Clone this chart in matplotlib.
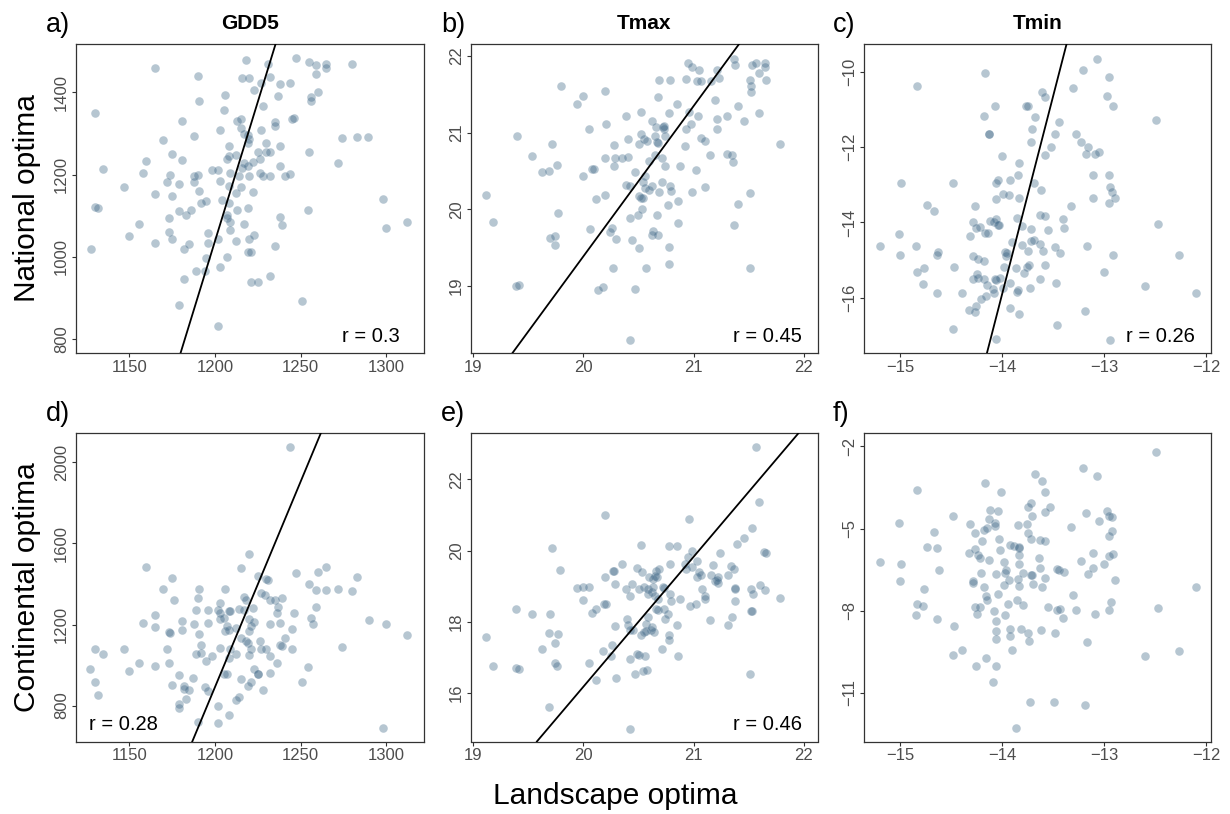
import matplotlib
matplotlib.use("Agg")
import matplotlib.pyplot as plt

plt.rcParams['font.family'] = ['Liberation Sans', 'DejaVu Sans']

# ---- data: landscape optima (x) vs national / continental optima (y) ----
# a) GDD5, national
nat_gdd5_x = [1130, 1165, 1190, 1191, 1218, 1231, 1216, 1220, 1232, 1227, 1238, 1244, 1247, 1255,
              1259, 1265, 1265, 1280, 1259, 1260, 1256, 1256, 1223, 1237, 1206, 1228, 1205, 1181,
              1213, 1215, 1235, 1235, 1245, 1246, 1203, 1215, 1217, 1219, 1227, 1188, 1170, 1220,
              1219, 1230, 1238, 1208, 1274, 1283, 1289, 1175, 1208, 1212, 1225, 1230, 1232, 1255,
              1160, 1181, 1207, 1217, 1222, 1226, 1219, 1238, 1272, 1135, 1158, 1174, 1188, 1190,
              1198, 1202, 1209, 1214, 1216, 1220, 1226, 1228, 1232, 1241, 1244, 1172, 1179, 1203,
              1188, 1147, 1208, 1215, 1298, 1165, 1175, 1191, 1222, 1204, 1192, 1195, 1212, 1208,
              1130, 1132, 1179, 1186, 1183, 1173, 1213, 1219, 1207, 1207, 1209, 1238, 1239, 1217,
              1156, 1196, 1173, 1175, 1150, 1209, 1223, 1165, 1185, 1196, 1202, 1212, 1220, 1235,
              1128, 1182, 1219, 1221, 1195, 1207, 1203, 1189, 1194, 1182, 1221, 1225, 1232, 1179,
              1251, 1202, 1300, 1312, 1254]
nat_gdd5_y = [1350, 1459, 1440, 1378, 1479, 1469, 1434, 1436, 1437, 1424, 1420, 1422, 1483, 1473,
              1466, 1470, 1460, 1469, 1445, 1400, 1389, 1380, 1407, 1391, 1393, 1368, 1357, 1331,
              1331, 1335, 1329, 1318, 1336, 1339, 1308, 1313, 1298, 1297, 1309, 1294, 1285, 1287,
              1277, 1278, 1269, 1269, 1289, 1291, 1291, 1251, 1246, 1247, 1256, 1255, 1254, 1254,
              1233, 1235, 1238, 1229, 1230, 1238, 1220, 1220, 1229, 1214, 1205, 1200, 1198, 1199,
              1211, 1211, 1205, 1197, 1216, 1196, 1205, 1198, 1196, 1196, 1201, 1183, 1178, 1184,
              1183, 1171, 1172, 1171, 1140, 1152, 1149, 1160, 1159, 1139, 1132, 1135, 1155, 1131,
              1121, 1118, 1111, 1114, 1101, 1094, 1113, 1119, 1102, 1094, 1085, 1098, 1077, 1081,
              1081, 1058, 1060, 1044, 1051, 1065, 1053, 1033, 1032, 1033, 1043, 1038, 1044, 1027,
              1020, 1019, 1012, 1013, 998, 1000, 975, 967, 967, 946, 940, 938, 954, 884,
              894, 833, 1071, 1085, 1113]

# b) Tmax, national
nat_tmax_x = [19.80, 19.94, 20.00, 20.20, 19.40, 19.72, 19.54, 19.76, 19.63, 19.69, 20.05, 20.00,
              20.08, 20.10, 20.21, 20.20, 20.28, 20.28, 20.29, 20.35, 20.41, 20.39, 20.52, 20.41,
              20.52, 20.51, 20.55, 20.58, 20.62, 20.65, 20.66, 20.72, 20.73, 20.73, 20.68, 20.69,
              20.67, 20.68, 20.74, 20.65, 20.71, 20.74, 20.60, 20.47, 20.56, 20.79, 20.78, 20.85,
              20.88, 20.92, 20.93, 20.96, 20.98, 21.04, 20.93, 20.95, 20.99, 21.05, 21.03, 21.07,
              21.07, 21.10, 21.02, 21.15, 21.19, 21.21, 21.23, 21.16, 21.21, 21.21, 21.30, 21.30,
              21.35, 21.36, 21.40, 21.46, 21.59, 21.37, 21.38, 21.51, 21.52, 21.52, 21.53, 21.57,
              21.59, 21.65, 21.65, 21.66, 21.78, 19.12, 20.12, 20.20, 20.39, 20.42, 20.52, 19.18,
              19.77, 19.70, 19.74, 19.74, 19.39, 19.42, 20.06, 20.24, 20.26, 20.30, 20.27, 20.13,
              20.18, 20.47, 20.42, 20.54, 20.42, 20.50, 20.53, 20.51, 20.54, 20.56, 20.60, 20.62,
              20.69, 20.71, 20.79, 20.80, 20.67, 20.44, 20.51, 20.63, 20.62, 20.68, 20.77, 20.86,
              20.86, 20.78, 20.78, 20.57, 20.99, 21.10, 21.37, 21.40, 21.51, 21.51]
nat_tmax_y = [21.61, 21.37, 21.47, 21.54, 20.96, 20.85, 20.69, 20.58, 20.49, 20.50, 21.04, 20.43,
              20.52, 20.52, 21.11, 20.67, 20.84, 20.56, 20.67, 20.67, 20.68, 21.22, 21.27, 20.92,
              20.98, 20.85, 20.92, 20.89, 21.15, 20.96, 21.07, 21.07, 21.08, 21.04, 21.46, 21.68,
              20.88, 20.86, 20.95, 20.71, 20.67, 20.57, 20.63, 20.48, 20.43, 21.69, 21.25, 21.37,
              20.56, 20.82, 21.04, 21.27, 21.11, 21.22, 21.70, 21.91, 21.86, 21.82, 21.67, 21.67,
              20.93, 20.89, 20.51, 20.71, 21.43, 21.82, 21.71, 21.67, 21.18, 21.04, 21.22, 20.72,
              20.71, 20.62, 21.34, 21.15, 21.26, 21.96, 21.88, 21.68, 21.61, 21.53, 21.88, 21.90,
              21.78, 21.91, 21.85, 21.69, 20.85, 20.18, 20.14, 20.18, 20.32, 20.31, 20.15, 19.84,
              19.95, 19.62, 19.65, 19.53, 19.00, 19.01, 19.74, 19.71, 19.75, 19.61, 19.23, 18.95,
              18.99, 18.96, 18.30, 20.35, 19.89, 19.92, 20.00, 20.17, 20.15, 20.28, 20.25, 20.31,
              20.22, 20.36, 20.30, 20.24, 19.93, 19.60, 19.50, 19.72, 19.66, 19.66, 20.05, 20.11,
              19.82, 19.51, 19.29, 19.24, 20.23, 20.29, 19.80, 20.07, 20.21, 19.23]

# c) Tmin, national
nat_tmin_x = [-14.84, -14.17, -13.07, -13.21, -12.95, -13.31, -12.97, -12.91, -13.61, -13.58, -14.07,
              -14.18, -13.77, -13.75, -13.68, -13.44, -12.49, -14.13, -14.13, -13.71, -13.72, -13.48,
              -13.28, -13.23, -13.52, -13.16, -13.18, -13.09, -13.05, -13.58, -14.00, -13.84, -13.85,
              -13.92, -14.06, -14.04, -14.99, -14.48, -13.69, -13.62, -13.11, -12.95, -12.94, -12.92,
              -12.89, -13.11, -13.99, -13.93, -13.84, -14.06, -12.95, -14.27, -14.74, -14.67, -13.33,
              -13.63, -13.58, -13.86, -13.81, -13.40, -13.39, -13.55, -13.72, -14.29, -14.26, -14.22,
              -14.17, -14.14, -14.12, -14.08, -14.06, -14.04, -14.03, -14.32, -15.01, -15.20, -15.00,
              -14.85, -14.63, -14.64, -13.90, -13.81, -13.75, -13.72, -13.69, -13.63, -13.60, -13.48,
              -13.43, -13.17, -12.91, -12.47, -12.27, -13.97, -13.96, -13.95, -14.29, -14.24, -14.18,
              -13.98, -13.87, -13.79, -13.76, -13.74, -13.58, -13.63, -13.47, -13.73, -13.86, -13.85,
              -13.92, -14.02, -14.06, -14.07, -14.15, -14.09, -14.08, -13.99, -14.29, -14.24, -14.25,
              -14.18, -14.47, -14.77, -14.84, -14.78, -14.64, -14.40, -14.21, -14.16, -14.26, -14.33,
              -14.27, -13.92, -13.84, -14.48, -14.06, -13.46, -13.19, -13.00, -12.60, -12.10, -12.94]
nat_tmin_y = [-10.37, -10.04, -9.65, -9.96, -10.14, -10.44, -10.63, -10.91, -10.53, -10.66, -10.92,
              -11.18, -10.91, -10.91, -11.19, -11.33, -11.28, -11.66, -11.66, -11.53, -11.86, -11.64,
              -11.65, -11.86, -12.00, -12.00, -12.17, -12.18, -12.14, -12.21, -12.24, -12.42, -12.75,
              -12.88, -12.95, -12.88, -12.94, -12.94, -12.96, -13.15, -12.73, -12.75, -13.05, -13.20,
              -13.36, -13.34, -13.25, -13.26, -13.34, -13.39, -13.48, -13.56, -13.54, -13.70, -13.57,
              -13.81, -13.83, -13.87, -14.10, -13.91, -14.14, -14.20, -14.17, -14.00, -14.14, -14.12,
              -14.27, -14.29, -13.96, -14.00, -13.92, -14.07, -14.07, -14.37, -14.30, -14.63, -14.87,
              -14.62, -14.79, -14.87, -14.52, -14.60, -14.75, -14.50, -14.47, -14.56, -14.75, -14.65,
              -14.82, -14.62, -14.87, -14.04, -14.87, -14.78, -14.89, -14.82, -14.89, -14.98, -15.03,
              -15.19, -15.22, -15.35, -15.19, -15.12, -15.14, -15.50, -15.62, -15.73, -15.85, -15.80,
              -15.60, -15.48, -15.52, -15.50, -15.65, -15.77, -15.86, -15.73, -15.50, -15.48, -15.38,
              -15.50, -15.18, -15.22, -15.32, -15.64, -15.87, -15.88, -16.04, -15.94, -16.22, -16.32,
              -16.39, -16.26, -16.43, -16.82, -17.09, -16.73, -16.35, -15.31, -15.69, -15.87, -17.11]

# d) GDD5, continental
cont_gdd5_x = [1244, 1220, 1160, 1215, 1175, 1247, 1260, 1265, 1283, 1225, 1230, 1231, 1170, 1191,
               1206, 1255, 1259, 1265, 1272, 1280, 1176, 1190, 1227, 1229, 1217, 1218, 1232, 1235,
               1239, 1203, 1165, 1158, 1165, 1189, 1196, 1202, 1203, 1208, 1209, 1203, 1205, 1214,
               1217, 1222, 1237, 1236, 1246, 1259, 1256, 1257, 1290, 1300, 1312, 1181, 1188, 1196,
               1220, 1223, 1221, 1207, 1206, 1208, 1212, 1220, 1232, 1238, 1245, 1173, 1174, 1181,
               1191, 1215, 1218, 1219, 1226, 1241, 1238, 1239, 1130, 1135, 1147, 1172, 1192, 1192,
               1189, 1203, 1209, 1208, 1212, 1220, 1221, 1227, 1230, 1232, 1236, 1245, 1274, 1156,
               1165, 1173, 1198, 1195, 1127, 1150, 1179, 1187, 1205, 1207, 1215, 1223, 1225, 1225,
               1232, 1254, 1130, 1175, 1182, 1182, 1185, 1194, 1196, 1219, 1221, 1228, 1251, 1132,
               1183, 1179, 1179, 1212, 1214, 1202, 1208, 1190, 1202, 1298]
cont_gdd5_y = [2078, 1550, 1486, 1479, 1431, 1454, 1457, 1484, 1436, 1438, 1423, 1418, 1374, 1377,
               1377, 1398, 1369, 1370, 1374, 1367, 1320, 1331, 1357, 1348, 1336, 1323, 1320, 1323,
               1330, 1308, 1248, 1207, 1190, 1272, 1272, 1274, 1257, 1267, 1267, 1225, 1233, 1279,
               1270, 1282, 1287, 1256, 1259, 1289, 1230, 1205, 1221, 1205, 1148, 1218, 1203, 1208,
               1228, 1213, 1195, 1195, 1169, 1175, 1184, 1167, 1205, 1208, 1179, 1164, 1157, 1172,
               1152, 1136, 1118, 1111, 1118, 1136, 1098, 1095, 1080, 1056, 1080, 1080, 1097, 1061,
               1056, 1082, 1077, 1036, 1054, 1048, 1079, 1077, 1077, 1046, 1008, 1077, 1087, 1008,
               995, 1008, 1043, 1020, 979, 970, 951, 936, 957, 956, 933, 980, 954, 954,
               959, 989, 915, 900, 897, 880, 875, 893, 874, 897, 915, 877, 916, 851,
               833, 808, 790, 826, 841, 800, 756, 720, 715, 692]

# e) Tmax, continental
cont_tmax_x = [21.57, 21.59, 20.20, 20.96, 21.53, 21.46, 21.39, 19.72, 20.52, 20.78, 20.85, 20.99,
               20.95, 21.03, 21.24, 21.64, 21.66, 19.79, 20.35, 20.27, 20.28, 20.20, 20.49, 20.53,
               20.79, 20.92, 20.93, 20.99, 21.18, 21.34, 21.37, 20.66, 20.69, 20.65, 20.67, 20.60,
               20.63, 21.05, 21.07, 21.16, 21.22, 21.21, 21.31, 21.03, 19.94, 20.00, 20.05, 20.00,
               20.08, 20.12, 20.19, 20.21, 20.29, 20.39, 20.42, 20.44, 20.51, 20.55, 20.59, 20.63,
               20.59, 20.62, 20.65, 20.68, 20.72, 20.73, 20.79, 20.80, 20.88, 20.66, 20.68, 20.73,
               20.74, 20.77, 20.97, 21.02, 21.08, 21.10, 21.10, 21.19, 21.22, 21.38, 21.38, 21.38,
               21.52, 21.54, 21.60, 21.65, 21.78, 21.52, 21.53, 21.35, 21.31, 21.15, 20.85, 19.39,
               19.54, 19.70, 19.12, 19.69, 19.77, 19.74, 19.63, 19.74, 19.76, 19.39, 19.42, 19.18,
               20.29, 20.40, 20.41, 20.42, 20.45, 20.52, 20.55, 20.57, 20.61, 20.64, 20.62, 20.57,
               20.59, 20.78, 20.78, 20.26, 20.18, 20.25, 20.05, 20.42, 20.49, 20.51, 20.56, 20.71,
               20.86, 20.47, 20.54, 20.58, 20.30, 20.12, 21.51, 19.69, 20.42]
cont_tmax_y = [22.91, 21.36, 21.00, 20.88, 20.63, 20.34, 20.19, 20.08, 20.17, 20.12, 20.14, 20.00,
               19.83, 19.71, 19.93, 19.95, 19.94, 19.46, 19.62, 19.44, 19.42, 19.25, 19.51, 19.41,
               19.61, 19.62, 19.48, 19.55, 19.59, 19.57, 19.47, 19.44, 19.47, 19.28, 19.25, 19.25,
               19.20, 19.39, 19.31, 19.32, 19.27, 19.17, 19.32, 19.25, 18.95, 18.97, 18.97, 18.61,
               18.26, 18.36, 18.49, 18.49, 19.07, 18.91, 18.72, 19.07, 18.91, 18.99, 18.91, 18.97,
               18.77, 18.84, 18.72, 18.63, 18.97, 18.94, 18.77, 18.58, 18.64, 18.37, 18.33, 18.37,
               18.07, 18.23, 18.44, 18.51, 18.92, 18.72, 18.64, 19.15, 19.10, 18.95, 18.93, 18.58,
               18.93, 18.79, 19.04, 18.89, 18.68, 18.29, 18.31, 18.13, 17.92, 18.06, 17.91, 18.35,
               18.22, 18.23, 17.57, 17.69, 17.67, 17.40, 17.24, 16.85, 16.76, 16.70, 16.68, 16.76,
               17.89, 18.09, 17.91, 17.78, 17.77, 17.62, 17.72, 17.74, 17.77, 17.72, 17.86, 17.95,
               18.14, 17.62, 17.48, 17.34, 17.18, 17.03, 16.85, 16.96, 17.09, 17.08, 17.04, 17.23,
               17.04, 16.54, 16.61, 16.66, 16.43, 16.38, 16.53, 15.61, 15.00]

# f) Tmin, continental
cont_tmin_x = [-12.49, -13.21, -13.07, -13.68, -13.61, -13.58, -14.17, -14.01, -14.84, -13.72, -13.75,
               -13.53, -13.58, -13.71, -14.12, -14.04, -14.13, -14.07, -14.07, -14.48, -14.32, -15.01,
               -13.85, -13.76, -14.18, -14.15, -14.27, -14.67, -13.18, -12.97, -12.95, -12.92, -13.05,
               -13.33, -12.92, -12.95, -13.75, -13.72, -14.03, -14.20, -13.63, -13.58, -13.92, -13.89,
               -13.84, -13.84, -14.74, -14.64, -14.27, -14.33, -14.02, -14.24, -14.22, -13.84, -13.64,
               -14.13, -13.98, -13.11, -12.95, -12.91, -13.23, -13.00, -15.20, -14.99, -14.62, -13.84,
               -13.96, -13.63, -13.46, -13.44, -13.39, -13.11, -14.21, -14.06, -13.97, -13.80, -13.72,
               -13.71, -13.16, -13.58, -15.00, -14.77, -14.84, -14.78, -14.85, -14.64, -14.47, -14.40,
               -14.48, -14.29, -14.29, -14.18, -14.16, -14.15, -14.04, -13.98, -13.93, -13.85, -13.84,
               -13.70, -13.61, -13.31, -12.89, -12.10, -14.27, -14.22, -14.25, -14.08, -14.06, -13.97,
               -13.94, -13.86, -13.80, -13.55, -13.46, -13.43, -13.40, -13.28, -13.09, -12.95, -12.93,
               -12.47, -14.06, -14.06, -13.92, -13.92, -13.82, -13.75, -13.74, -13.62, -13.48, -13.17,
               -13.90, -14.16, -14.26, -14.06, -14.09, -13.73, -13.49, -13.19, -13.87, -12.60, -12.27]
cont_tmin_y = [-2.19, -2.79, -3.07, -3.02, -3.25, -3.65, -3.32, -3.65, -3.58, -4.05, -4.20,
               -4.20, -4.39, -4.55, -4.31, -4.36, -4.64, -4.79, -4.92, -4.56, -4.82, -4.81,
               -4.88, -4.82, -5.05, -4.98, -5.16, -5.12, -4.44, -4.37, -4.56, -4.58, -4.71,
               -4.96, -5.09, -5.27, -5.16, -5.38, -5.40, -5.46, -5.41, -5.46, -5.61, -5.65,
               -5.68, -5.72, -5.66, -5.71, -5.74, -5.90, -5.78, -5.97, -6.07, -5.95, -6.07,
               -6.14, -6.23, -5.90, -5.99, -5.94, -6.19, -6.28, -6.23, -6.31, -6.51, -6.31,
               -6.50, -6.46, -6.48, -6.51, -6.58, -6.43, -6.64, -6.67, -6.62, -6.61, -6.68,
               -6.70, -6.65, -6.80, -6.91, -7.21, -7.76, -7.84, -8.15, -8.32, -8.57, -9.43,
               -9.63, -6.93, -6.98, -7.12, -7.48, -7.60, -7.38, -7.06, -6.87, -6.84, -7.10,
               -7.01, -7.12, -7.44, -6.89, -7.15, -7.87, -7.87, -8.12, -8.00, -8.38, -8.15,
               -7.76, -7.62, -7.80, -7.87, -7.99, -7.94, -8.28, -7.98, -8.11, -7.96, -7.68,
               -7.91, -8.73, -9.04, -8.66, -8.93, -8.66, -8.83, -9.12, -8.71, -8.82, -9.13,
               -9.43, -9.73, -10.04, -10.04, -10.61, -11.32, -11.33, -11.45, -12.28, -9.65, -9.49]

titles = ['GDD5', 'Tmax', 'Tmin']
panel_tags = ['a)', 'b)', 'c)', 'd)', 'e)', 'f)']
r_labels = ['r = 0.3', 'r = 0.45', 'r = 0.26', 'r = 0.28', 'r = 0.46', None]
# fitted lines: a point on the line and its slope
line_pts = [(1180, 767), (19.36, 18.13), (-14.15, -17.46), (1186.8, 623), (19.58, 14.64), None]
line_slopes = [13.56, 1.96, 10.5, 20.3, 3.65, None]

xlims = [(1119, 1321.6), (18.98, 22.13), (-15.36, -11.95)]
xticks = [[1150, 1200, 1250, 1300], [19, 20, 21, 22], [-15, -14, -13, -12]]
ylims = [(767, 1517), (18.13, 22.15), (-17.46, -9.27),
         (623, 2145), (14.64, 23.30), (-12.78, -1.51)]
yticks = [[800, 1000, 1200, 1400], [19, 20, 21, 22], [-16, -14, -12, -10],
          [800, 1200, 1600, 2000], [16, 18, 20, 22], [-11, -8, -5, -2]]

xs = [nat_gdd5_x, nat_tmax_x, nat_tmin_x, cont_gdd5_x, cont_tmax_x, cont_tmin_x]
ys = [nat_gdd5_y, nat_tmax_y, nat_tmin_y, cont_gdd5_y, cont_tmax_y, cont_tmin_y]

W, H = 1230, 814
fig = plt.figure(figsize=(W / 100, H / 100), dpi=100)

lefts = [76, 470.7, 863.7]
tops = [44.3, 433]
pw, ph = 347.5, 308.5

point_col = '#376182'
frame_col = '#333333'
tick_txt = '#4D4D4D'

for i in range(6):
    row, col = divmod(i, 3)
    ax = fig.add_axes([lefts[col] / W, 1 - (tops[row] + ph) / H, pw / W, ph / H])
    ax.scatter(xs[i], ys[i], s=38, color=point_col, alpha=0.36, linewidths=0, zorder=2)
    if line_pts[i] is not None:
        ax.axline(line_pts[i], slope=line_slopes[i], color='black', lw=1.3, zorder=3)
    ax.set_xlim(*xlims[col])
    ax.set_ylim(*ylims[i])
    ax.set_xticks(xticks[col])
    ax.set_yticks(yticks[i])
    for sp in ax.spines.values():
        sp.set_color(frame_col)
        sp.set_linewidth(0.9)
    ax.tick_params(direction='out', length=3, width=0.8, color=frame_col,
                   labelcolor=tick_txt, labelsize=12, pad=2)
    plt.setp(ax.get_yticklabels(), rotation=90, va='center')

    if r_labels[i] is not None:
        if i == 3:
            ax.text(0.038, 0.038, r_labels[i], transform=ax.transAxes, fontsize=14.5,
                    ha='left', va='baseline')
        else:
            xr = 0.932 if i == 0 else 0.952
            ax.text(xr, 0.036, r_labels[i], transform=ax.transAxes, fontsize=14.5,
                    ha='right', va='baseline')

    # panel tag
    tag_x = [46, 441, 833][col]
    tag_y = [32, 421][row]
    fig.text(tag_x / W, 1 - tag_y / H, panel_tags[i], fontsize=19.5, ha='left', va='baseline')
    if row == 0:
        ax.text(0.5, 1 - (29 - tops[0]) / ph, titles[col], transform=ax.transAxes,
                fontsize=15, fontweight='bold', ha='center', va='baseline')

fig.text(27 / W, 1 - 198 / H, 'National optima', rotation=90, fontsize=21.5,
         ha='center', va='center')
fig.text(27 / W, 1 - 587 / H, 'Continental optima', rotation=90, fontsize=21.5,
         ha='center', va='center')
fig.text(615 / W, 1 - 796 / H, 'Landscape optima', fontsize=21.5, ha='center', va='center')

fig.savefig('out.png', dpi=100)
